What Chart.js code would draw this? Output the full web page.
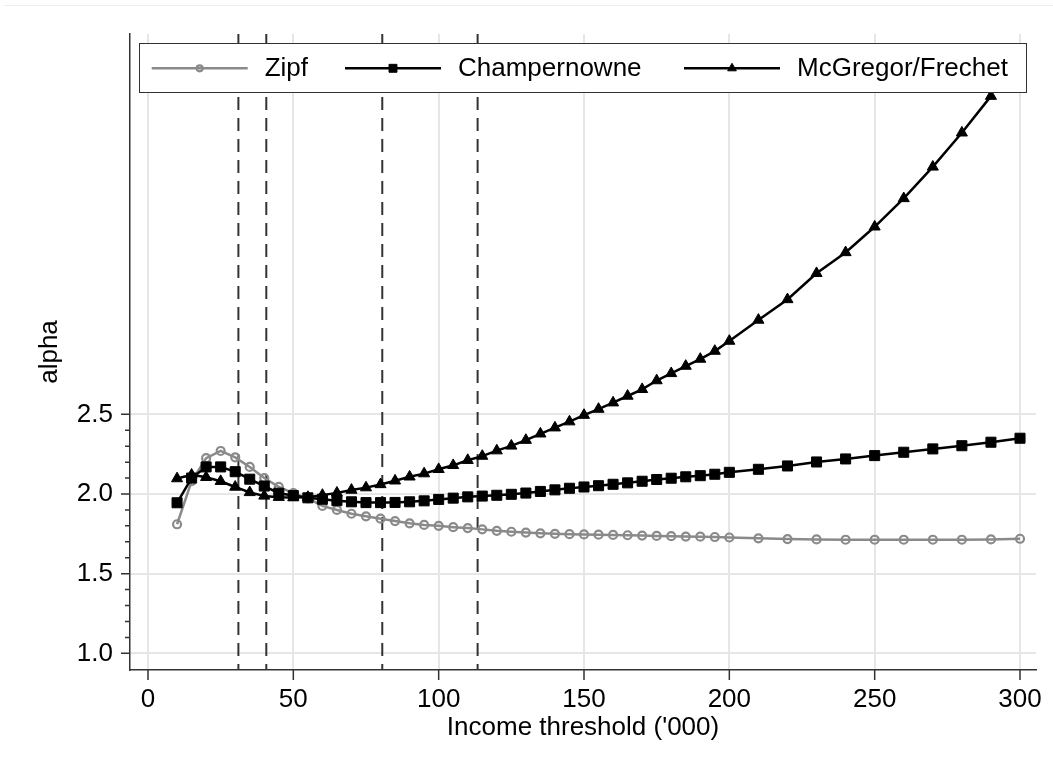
<!DOCTYPE html>
<html><head><meta charset="utf-8">
<script src="https://cdn.jsdelivr.net/npm/chart.js@4.4.1/dist/chart.umd.min.js"></script>
<style>
html,body{margin:0;padding:0;background:#fff;}
#wrap{position:relative;width:1053px;height:767px;overflow:hidden;}
#topline{position:absolute;left:4px;right:0;top:5px;height:1px;background:#ececec;}
canvas{position:absolute;left:0;top:0;}
</style></head><body>
<div id="wrap"><div id="topline"></div><canvas id="c" width="1053" height="767"></canvas></div>
<script>
// ---- data ----
const thresholds = [10,15,20,25,30,35,40,45,50,55,60,65,70,75,80,85,90,95,100,105,110,115,120,125,130,135,140,145,150,155,160,165,170,175,180,185,190,195,200,210,220,230,240,250,260,270,280,290,300];
const zipf = [1.81,2.08,2.225,2.27,2.23,2.17,2.10,2.045,2.005,1.972,1.925,1.90,1.876,1.86,1.845,1.83,1.816,1.806,1.80,1.792,1.786,1.778,1.769,1.763,1.758,1.753,1.75,1.748,1.746,1.745,1.743,1.741,1.739,1.737,1.735,1.733,1.732,1.73,1.727,1.722,1.717,1.715,1.713,1.713,1.713,1.713,1.713,1.715,1.719];
const champernowne = [1.945,2.10,2.17,2.17,2.14,2.093,2.05,2.005,1.99,1.976,1.967,1.958,1.951,1.946,1.946,1.947,1.951,1.957,1.966,1.974,1.982,1.987,1.992,1.998,2.006,2.016,2.026,2.036,2.044,2.052,2.061,2.07,2.08,2.091,2.099,2.108,2.115,2.124,2.136,2.155,2.176,2.201,2.22,2.241,2.262,2.283,2.303,2.325,2.35];
const mcgregor = [2.097,2.12,2.105,2.08,2.044,2.01,1.988,1.98,1.978,1.98,1.993,2.007,2.025,2.04,2.06,2.083,2.108,2.128,2.155,2.18,2.212,2.238,2.272,2.302,2.338,2.378,2.416,2.454,2.495,2.533,2.573,2.615,2.657,2.712,2.757,2.803,2.847,2.897,2.96,3.092,3.221,3.385,3.516,3.677,3.855,4.053,4.267,4.497,null];
const referenceLines = [31.1, 40.7, 80.6, 113.4];
const seriesNames = ['Zipf', 'Champernowne', 'McGregor/Frechet'];
const xTickValues = [0,50,100,150,200,250,300];
const yTickValues = [1.0,1.5,2.0,2.5];
const yMinorTickValues = [1.1,1.2,1.3,1.4,1.6,1.7,1.8,1.9,2.1,2.2,2.3,2.4];
const xTitle = "Income threshold ('000)";
const yTitle = 'alpha';

// ---- axis ranges ----
const X_MIN = -6.19, X_MAX = 305.5;
const Y_MIN = 0.8954, Y_MAX = 4.887;

const FONT = "'Liberation Sans', Arial, Helvetica, sans-serif";
const toPts = arr => thresholds.map((x, i) => ({x: x, y: arr[i]}));

const datasets = [
  {label: seriesNames[0], data: toPts(zipf), borderColor: '#8a8a8a', borderWidth: 2.5,
   pointStyle: 'circle', pointRadius: 4, pointBorderWidth: 2.2, pointBorderColor: '#8a8a8a',
   pointBackgroundColor: 'rgba(0,0,0,0)', order: 3, legendRadius: 3},
  {label: seriesNames[1], data: toPts(champernowne), borderColor: '#000', borderWidth: 2.5,
   pointStyle: 'rect', pointRadius: 7.1, pointBorderWidth: 1, pointBorderColor: '#000',
   pointBackgroundColor: '#000', order: 2, legendRadius: 5.6},
  {label: seriesNames[2], data: toPts(mcgregor), borderColor: '#000', borderWidth: 2.5,
   pointStyle: 'triangle', pointRadius: 6.4, pointBorderWidth: 1, pointBorderColor: '#000',
   pointBackgroundColor: '#000', order: 1, legendRadius: 5}
];
referenceLines.forEach(v => {
  datasets.push({label: '', isRef: true, data: [{x: v, y: Y_MAX}, {x: v, y: Y_MIN}],
    borderColor: '#333', borderWidth: 2, borderDash: [13, 8], pointRadius: 0, order: 10});
});

const tickMarksPlugin = {
  id: 'tickMarks',
  afterDraw(chart) {
    const ctx = chart.ctx, xs = chart.scales.x, ys = chart.scales.y, a = chart.chartArea;
    ctx.save();
    ctx.strokeStyle = '#333';
    ctx.lineWidth = 1.5;
    ctx.beginPath();
    yTickValues.forEach(v => { const p = ys.getPixelForValue(v); ctx.moveTo(a.left - 9, p); ctx.lineTo(a.left, p); });
    yMinorTickValues.forEach(v => { const p = ys.getPixelForValue(v); ctx.moveTo(a.left - 5, p); ctx.lineTo(a.left, p); });
    xTickValues.forEach(v => { const p = xs.getPixelForValue(v); ctx.moveTo(p, a.bottom); ctx.lineTo(p, a.bottom + 10); });
    ctx.stroke();
    ctx.restore();
  }
};

const legendPlugin = {
  id: 'boxLegend',
  afterDraw(chart) {
    const ctx = chart.ctx, a = chart.chartArea;
    const left = a.left + 9.3, right = a.right - 9.3, top = a.top + 9, h = 49;
    ctx.save();
    ctx.fillStyle = '#fff';
    ctx.fillRect(left, top, right - left, h);
    ctx.strokeStyle = '#333';
    ctx.lineWidth = 1;
    ctx.strokeRect(Math.round(left) + 0.5, Math.round(top) + 0.5, Math.round(right - left), h);
    const offsets = [12.4, 205.7, 544.7];
    const lineLen = 96, cy = top + 25.3;
    const items = chart.data.datasets.filter(d => !d.isRef);
    items.forEach((d, i) => {
      const x0 = left + offsets[i];
      ctx.strokeStyle = d.borderColor;
      ctx.lineWidth = d.borderWidth;
      ctx.setLineDash([]);
      ctx.beginPath(); ctx.moveTo(x0, cy); ctx.lineTo(x0 + lineLen, cy); ctx.stroke();
      ctx.strokeStyle = d.pointBorderColor;
      ctx.fillStyle = d.pointBackgroundColor;
      ctx.lineWidth = d.pointBorderWidth;
      Chart.helpers.drawPoint(ctx, {pointStyle: d.pointStyle, radius: d.legendRadius, rotation: 0, borderWidth: d.pointBorderWidth}, x0 + lineLen / 2, cy);
      ctx.fillStyle = '#000';
      ctx.font = '26px ' + FONT;
      ctx.textBaseline = 'alphabetic';
      ctx.textAlign = 'left';
      ctx.fillText(d.label, x0 + lineLen + 17, top + 33);
    });
    ctx.restore();
  }
};

new Chart(document.getElementById('c'), {
  type: 'line',
  data: {datasets: datasets},
  options: {
    responsive: false,
    animation: false,
    events: [],
    devicePixelRatio: 1,
    layout: {padding: {top: 34, right: 17, left: 0, bottom: 0}},
    elements: {line: {tension: 0}},
    plugins: {legend: {display: false}, tooltip: {enabled: false}},
    scales: {
      x: {
        type: 'linear', min: X_MIN, max: X_MAX,
        afterBuildTicks: s => { s.ticks = xTickValues.map(v => ({value: v})); },
        afterFit: s => { s.height = 97; s.paddingLeft = 0; s.paddingRight = 0; },
        grid: {color: '#e6e6e6', lineWidth: 2, drawTicks: false},
        border: {display: true, color: '#333', width: 1.5},
        ticks: {padding: 14, color: '#000', font: {size: 26, family: FONT}, autoSkip: false, maxRotation: 0, callback: v => String(v)},
        title: {display: true, text: xTitle, color: '#000', font: {size: 26, family: FONT}, padding: {top: 0, bottom: 24}}
      },
      y: {
        type: 'linear', min: Y_MIN, max: Y_MAX,
        afterBuildTicks: s => { s.ticks = yTickValues.map(v => ({value: v})); },
        afterFit: s => { s.width = 130; s.paddingTop = 0; s.paddingBottom = 0; },
        grid: {color: '#e6e6e6', lineWidth: 2, drawTicks: false},
        border: {display: true, color: '#333', width: 1.5},
        ticks: {padding: 17, color: '#000', font: {size: 26, family: FONT}, callback: v => Number(v).toFixed(1)},
        title: {display: true, text: yTitle, color: '#000', font: {size: 26, family: FONT}, padding: {top: 34, bottom: 0}}
      }
    }
  },
  plugins: [tickMarksPlugin, legendPlugin]
});
</script>
</body></html>
